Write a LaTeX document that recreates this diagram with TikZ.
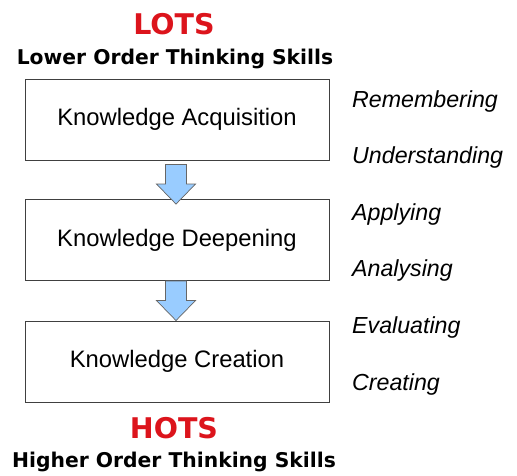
\documentclass[tikz,border=0pt]{standalone}
\usepackage{fontspec}
\setmainfont{Liberation Sans}
\newfontfamily\titlefont{DejaVu Sans}
\usepackage{tikz}
\usetikzlibrary{calc}
\usetikzlibrary{positioning}

\definecolor{lotsred}{RGB}{220,20,28}
\definecolor{arrowblue}{RGB}{153,204,255}

\begin{document}
\begin{tikzpicture}[x=1pt,y=-1pt,
    stagebox/.style={draw=black!75,line width=0.9pt,minimum width=304pt,minimum height=81pt,inner sep=0pt,font=\fontsize{23.8}{27}\selectfont},
    levelname/.style={font=\titlefont\bfseries\fontsize{28.5}{32}\selectfont,text=lotsred,inner sep=0pt},
    levellong/.style={font=\titlefont\bfseries\fontsize{20.3}{24}\selectfont,inner sep=0pt},
    verbtext/.style={anchor=base west,inner sep=0pt,font=\itshape\fontsize{23.2}{26}\selectfont},
    blockarrow/.style={draw=black!60,line width=0.7pt,fill=arrowblue,line join=miter}]
            % Fix the size of the picture
            \useasboundingbox (0,0) rectangle (517,475);
            \def\shaft{10.5}  % half width of the shaft
            \def\head{19.5}   % half width of the head
            \def\headlen{20}  % length of the head

            % Draw the titles
            \node[levelname] (lots) at (174,24) {LOTS};
            \node[levellong] (lotslong) at (175,59) {Lower Order Thinking Skills};

            % Draw the stages
            \node[stagebox] (acq) at (177,119.5) {Knowledge Acquisition};
            \node[stagebox] (deep) at (177,240) {Knowledge Deepening};
            \node[stagebox] (crea) at (177,361.5) {Knowledge Creation};

            \node[levelname] (hots) at (174,428) {HOTS};
            \node[levellong] (hotslong) at (174,462) {Higher Order Thinking Skills};

            % Draw the block arrows between the stages
            \foreach \from/\to/\gap/\over in {acq/deep/4/5,deep/crea/0/0}{
                \coordinate (top) at ($(\from.south)+(-1,\gap)$);
                \coordinate (tip) at ($(\to.north)+(-1,\over)$);
                \draw[blockarrow] ($(top)+(-\shaft,0)$) -- ($(top)+(\shaft,0)$)
                    -- ($(tip)+(\shaft,-\headlen)$) -- ($(tip)+(\head,-\headlen)$)
                    -- (tip) -- ($(tip)+(-\head,-\headlen)$)
                    -- ($(tip)+(-\shaft,-\headlen)$) -- cycle;
            }

            % Draw the thinking skills
            \node[verbtext] (remember) at (352,107) {Remembering};
            \node[verbtext] (understand) at (352,163) {Understanding};
            \node[verbtext] (apply) at (352,220) {Applying};
            \node[verbtext] (analyse) at (352,276) {Analysing};
            \node[verbtext] (evaluate) at (352,333) {Evaluating};
            \node[verbtext] (create) at (352,390) {Creating};
\end{tikzpicture}
\end{document}
